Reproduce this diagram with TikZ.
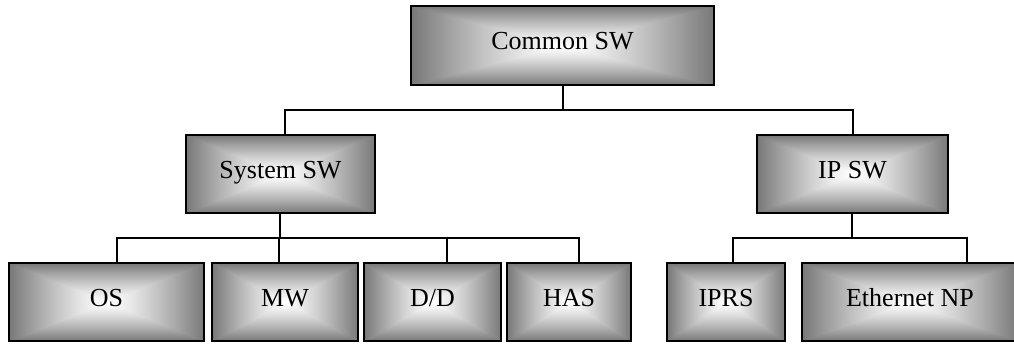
\documentclass[tikz,border=0pt]{standalone}
\usepackage{fontspec}
\setmainfont{Liberation Serif}
\pgfdeclarefunctionalshading{rectgrad}{\pgfpoint{-50bp}{-50bp}}{\pgfpoint{50bp}{50bp}}{}{abs exch abs 2 copy lt {exch} if pop 25 div dup 1 gt {pop 1} if 1.25 exp 0.53 mul 1 exch sub dup dup}
\tikzset{
  box/.style={draw=black, line width=1.8pt, shading=rectgrad, inner sep=0pt,
    text height=17pt, text depth=9pt,
    font=\fontsize{26}{30}\selectfont},
  conn/.style={draw=black, line width=1.4pt}
}
\begin{document}
\begin{tikzpicture}[x=1pt,y=-1pt]
\useasboundingbox (0,0) rectangle (1014,343);
\clip (0,0) rectangle (1014,343);
% nodes
\node[box, minimum width=303pt, minimum height=79pt] (common) at (562.5,45.5) {Common SW};
\node[box, minimum width=189pt, minimum height=78pt] (sys) at (280.5,174) {System SW};
\node[box, minimum width=191pt, minimum height=78pt] (ip) at (852.5,174) {IP SW};
\node[box, minimum width=195pt, minimum height=78pt] (os) at (106.5,302) {OS};
\node[box, minimum width=146pt, minimum height=78pt] (mw) at (285,302) {MW};
\node[box, minimum width=137pt, minimum height=78pt] (dd) at (432.5,302) {D/D};
\node[box, minimum width=124pt, minimum height=78pt] (has) at (569,302) {HAS};
\node[box, minimum width=118pt, minimum height=78pt] (iprs) at (726,302) {IPRS};
\node[box, minimum width=216pt, minimum height=78pt] (eth) at (910,302) {Ethernet NP};
% bus levels
\coordinate (b1) at (0,110);
\coordinate (b2) at (0,238);
% attachment points
\coordinate (commonB) at ([xshift=0.5pt]common.south);
\coordinate (sysT) at ([xshift=4.5pt]sys.north);
\coordinate (sysB) at ([xshift=-0.5pt]sys.south);
\coordinate (ipT) at ([xshift=0.5pt]ip.north);
\coordinate (ipB) at ([xshift=-0.5pt]ip.south);
\coordinate (osT) at ([xshift=10.5pt]os.north);
\coordinate (mwT) at ([xshift=-6pt]mw.north);
\coordinate (ddT) at ([xshift=14.5pt]dd.north);
\coordinate (hasT) at ([xshift=10pt]has.north);
\coordinate (iprsT) at ([xshift=7pt]iprs.north);
\coordinate (ethT) at ([xshift=57pt]eth.north);
% connectors
\draw[conn] (commonB) -- (commonB |- b1);
\draw[conn] (sysT) |- (ipT |- b1) -- (ipT);
\draw[conn] (sysB) -- (sysB |- b2);
\draw[conn] (osT) |- (hasT |- b2) -- (hasT);
\draw[conn] (mwT) -- (mwT |- b2);
\draw[conn] (ddT) -- (ddT |- b2);
\draw[conn] (ipB) -- (ipB |- b2);
\draw[conn] (iprsT) |- (ethT |- b2) -- (ethT);
\end{tikzpicture}
\end{document}
